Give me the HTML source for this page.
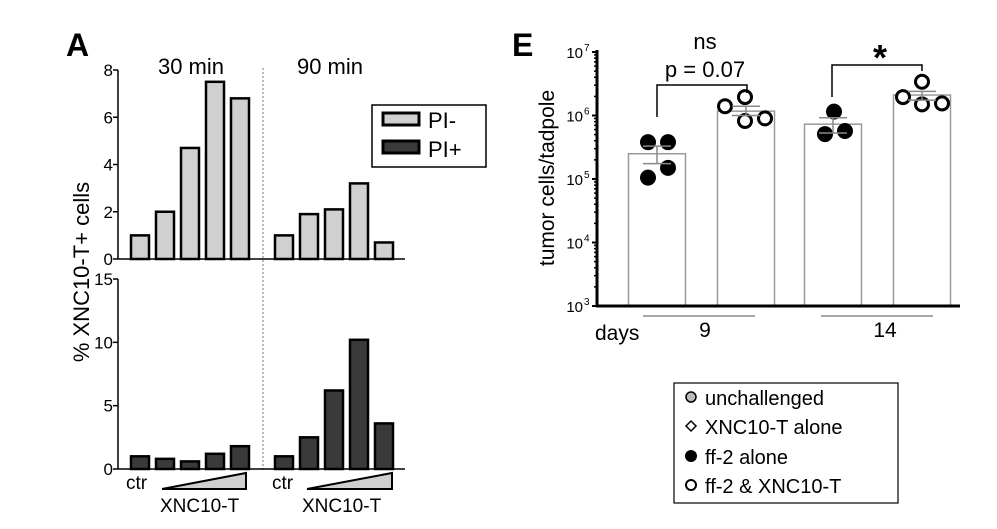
<!DOCTYPE html>
<html><head><meta charset="utf-8"><style>
body{margin:0;background:#fff}
svg{display:block;font-family:"Liberation Sans",Arial,sans-serif}
</style></head><body>
<svg id="fig" width="997" height="529" viewBox="0 0 997 529">
<text x="66" y="56" font-size="32" font-weight="bold">A</text>
<text x="191" y="74" font-size="22" text-anchor="middle">30 min</text>
<text x="330" y="74" font-size="22" text-anchor="middle">90 min</text>
<text transform="translate(89,272) rotate(-90)" font-size="22" text-anchor="middle">% XNC10-T+ cells</text>
<line x1="263" y1="68" x2="263" y2="470" stroke="#777" stroke-dasharray="2,2"/>
<g id="aTop"></g>
<g id="aBot"></g>
<g>
<rect x="372" y="105" width="114" height="62" fill="#fff" stroke="#000" stroke-width="1.5"/>
<rect x="383" y="113" width="36" height="12" fill="#d0d0d0" stroke="#000" stroke-width="3"/>
<text x="428" y="128" font-size="22">PI-</text>
<rect x="383" y="141" width="36" height="12" fill="#3a3a3a" stroke="#000" stroke-width="3"/>
<text x="428" y="157" font-size="22">PI+</text>
</g>
<g font-size="19">
<text x="126" y="489">ctr</text><text x="160" y="512">XNC10-T</text>
<polygon points="162,489 246,473 246,489" fill="#d0d0d0" stroke="#000" stroke-width="2"/>
<text x="272" y="489">ctr</text><text x="302" y="512">XNC10-T</text>
<polygon points="307,489 392,473 392,489" fill="#d0d0d0" stroke="#000" stroke-width="2"/>
</g>

<text x="512" y="56" font-size="32" font-weight="bold">E</text>
<text transform="translate(554,178) rotate(-90)" font-size="21" text-anchor="middle">tumor cells/tadpole</text>
<g id="eChart"></g>
<text x="705" y="49" font-size="22" text-anchor="middle">ns</text>
<text x="705" y="77" font-size="22" text-anchor="middle">p = 0.07</text>
<polyline points="657,117 657,85 747,85 747,93" fill="none" stroke="#000" stroke-width="1.5"/>
<text x="880" y="70" font-size="36" font-weight="bold" text-anchor="middle">*</text>
<polyline points="832,97 832,65 922,65 922,71" fill="none" stroke="#000" stroke-width="1.5"/>
<g>
<line x1="643" y1="316" x2="755" y2="316" stroke="#888" stroke-width="1.5"/>
<line x1="821" y1="316" x2="933" y2="316" stroke="#888" stroke-width="1.5"/>
<text x="595" y="340" font-size="21">days</text>
<text x="705" y="337" font-size="21" text-anchor="middle">9</text>
<text x="885" y="337" font-size="21" text-anchor="middle">14</text>
</g>
<g font-size="20">
<rect x="674" y="383" width="224" height="120" fill="#fff" stroke="#000" stroke-width="1.2"/>
<circle cx="691" cy="397" r="5" fill="#bbb" stroke="#000" stroke-width="1.5"/>
<text x="705" y="405">unchallenged</text>
<polygon points="691,421 696,426 691,431 686,426" fill="#fff" stroke="#000" stroke-width="1.5"/>
<text x="705" y="434">XNC10-T alone</text>
<circle cx="691" cy="456" r="6" fill="#000"/>
<text x="705" y="464">ff-2 alone</text>
<circle cx="691" cy="485" r="5" fill="#fff" stroke="#000" stroke-width="2"/>
<text x="705" y="493">ff-2 &amp; XNC10-T</text>
</g>
</svg>
<script>
const aCats = ["ctr","d1","d2","d3","d4"];
const piNeg30 = [1, 2, 4.7, 7.5, 6.8];
const piNeg90 = [1, 1.9, 2.1, 3.2, 0.7];
const piPos30 = [1, 0.8, 0.6, 1.2, 1.8];
const piPos90 = [1, 2.5, 6.2, 10.2, 3.6];
const topTicks = [0,2,4,6,8];
const botTicks = [0,5,10,15];
const eGroups = ["d9-ff2","d9-ff2-xnc","d14-ff2","d14-ff2-xnc"];
const eMeans = [2.5e5, 1.17e6, 7.3e5, 2.1e6];
const eLow = [1.75e5, 1.0e6, 5.3e5, 1.75e6];
const eHigh = [3.3e5, 1.4e6, 9.2e5, 2.4e6];
const ePoints = [[3.8e5,3.8e5,1.5e5,1.05e5],[1.4e6,1.95e6,8.2e5,9e5],[1.15e6,5.1e5,5.7e5],[1.95e6,3.4e6,1.5e6,1.55e6]];
const eFilled = [true,false,true,false];
const eTickExp = [3,4,5,6,7];

const NS="http://www.w3.org/2000/svg";
function mk(t,a,p){const e=document.createElementNS(NS,t);for(const k in a)e.setAttribute(k,a[k]);p.appendChild(e);return e;}

function barChart(g,y0,y1,max,ticks,s30,s90,fill,nm){
  const y=v=>y0-(v/max)*(y0-y1);
  mk('line',{x1:118,y1:y1,x2:118,y2:y0,stroke:'#000','stroke-width':1.5},g);
  mk('line',{x1:118,y1:y0,x2:405,y2:y0,stroke:'#000','stroke-width':1.5},g);
  ticks.forEach(t=>{
    const l=mk('line',{x1:113,y1:y(t),x2:118,y2:y(t),stroke:'#000','stroke-width':1.5},g);
    
    
    const tx=mk('text',{x:113,y:y(t)+6,'font-size':17,'text-anchor':'end'},g);
    tx.textContent=t;
    
    
  });
  [[s30,140],[s90,284]].forEach(([s,x0])=>{
    s.forEach((v,i)=>{
      const cx=x0+i*25;
      const r=mk('rect',{x:cx-9,y:y(v),width:18,height:y0-y(v),fill:fill,stroke:'#000','stroke-width':2.5},g);
      
      
    });
  });
}
barChart(document.getElementById('aTop'),259,70,8,topTicks,piNeg30,piNeg90,'#d0d0d0','pi-neg');
barChart(document.getElementById('aBot'),469,279,15,botTicks,piPos30,piPos90,'#3a3a3a','pi-pos');

const eg=document.getElementById('eChart');
const ey=v=>306-(Math.log10(v)-3)*63.5;
const bx=[657,746,833,922];
const jitter=[[-9,11,11,-9],[-21,-1,-1,19],[1,-8,12],[-19,0,0,20]];
eGroups.forEach((gname,i)=>{
  const r=mk('rect',{x:bx[i]-28.5,y:ey(eMeans[i]),width:57,height:306-ey(eMeans[i]),fill:'#fff',stroke:'#999','stroke-width':1.5},eg);
  
  
});
eGroups.forEach((gname,i)=>{
  ePoints[i].forEach((v,j)=>{
    const c=mk('circle',{cx:bx[i]+jitter[i][j],cy:ey(v),r:eFilled[i]?8:6.5,fill:eFilled[i]?'#000':'#fff',stroke:'#000','stroke-width':eFilled[i]?0:3},eg);
    
    
  });
  const e=mk('path',{d:`M${bx[i]-14},${ey(eHigh[i])}H${bx[i]+14}M${bx[i]},${ey(eHigh[i])}V${ey(eLow[i])}M${bx[i]-14},${ey(eLow[i])}H${bx[i]+14}`,stroke:'#888','stroke-width':1.5,fill:'none'},eg);
  
  
});
mk('line',{x1:597,y1:50,x2:597,y2:307,stroke:'#000','stroke-width':3},eg);
mk('line',{x1:596,y1:306,x2:960,y2:306,stroke:'#000','stroke-width':3},eg);
eTickExp.forEach((p,k)=>{
  const yy=ey(Math.pow(10,p));
  mk('line',{x1:592,y1:yy,x2:597,y2:yy,stroke:'#000','stroke-width':2},eg);
  if(k<eTickExp.length-1){for(let m=2;m<10;m++){const ym=ey(m*Math.pow(10,p));mk('line',{x1:594,y1:ym,x2:597,y2:ym,stroke:'#000','stroke-width':1.5},eg);}}
  const t=mk('text',{x:583,y:yy+6,'font-size':15,'text-anchor':'end'},eg);
  t.textContent='10';
  
  
  const s=mk('text',{x:584,y:yy-1,'font-size':10},eg);
  s.textContent=p;
});
</script>
</body></html>
